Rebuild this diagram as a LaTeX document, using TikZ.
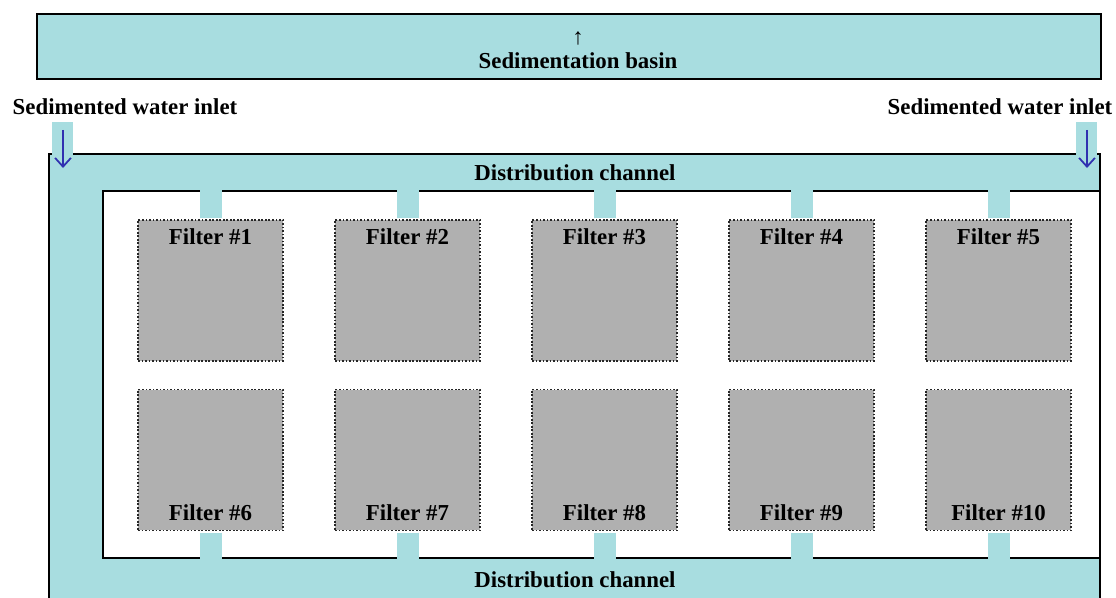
\documentclass[tikz,border=0pt]{standalone}
\usepackage{fontspec}
\setmainfont{Liberation Serif}
\usetikzlibrary{positioning,arrows.meta}

\definecolor{water}{RGB}{168,221,224}
\definecolor{filtergray}{RGB}{176,176,176}
\definecolor{inletblue}{RGB}{48,48,176}

\begin{document}
\begin{tikzpicture}[
x=0.02cm, y=-0.02cm,
wall/.style={line width=1.4pt},
filterbox/.style={
  draw=black!85,
  dash pattern=on 1pt off 1pt,
  line width=1.1pt,
  fill=filtergray,
  minimum width=2.9cm,
  minimum height=2.82cm,
  inner sep=0pt
  },
lbl/.style={font=\bfseries\fontsize{13}{15}\selectfont, inner sep=0pt},
pipe/.style={draw=water, line width=0.44cm},
inflow/.style={draw=inletblue, line width=1pt, -{Straight Barb[length=5pt,width=9pt]}}
]
\useasboundingbox (0,0) rectangle (1116,598);

% sedimentation basin
\filldraw[fill=water, wall] (37,14) rectangle (1101,79);
\node[lbl, font=\fontsize{13}{15}\selectfont] (basinup) at (578,38) {↑};
\node[lbl] (basin) at (578,61) {Sedimentation basin};

% distribution channel
\fill[water] (49,154) rectangle (1100,598);
\fill[white] (103,191) rectangle (1100,558);
\fill[water] (52,122) rectangle (73,156);
\fill[water] (1076,122) rectangle (1097,156);
\draw[wall] (49,598) -- (49,154) -- (52,154);
\draw[wall] (73,154) -- (1076,154);
\draw[wall] (1097,154) -- (1100,154) -- (1100,598);
\draw[wall] (1100,191) -- (103,191) -- (103,558) -- (1100,558);
\coordinate (chtop) at (0,187);
\coordinate (chbot) at (0,562);

% inlets
\node[lbl] (inletL) at (125,107) {Sedimented water inlet};
\node[lbl] (inletR) at (1000,107) {Sedimented water inlet};
\coordinate (inLa) at (63,130);
\coordinate (inLb) at (63,168);
\coordinate (inRa) at (1087,130);
\coordinate (inRb) at (1087,168);
\draw[inflow] (inLa) -- (inLb);
\draw[inflow] (inRa) -- (inRb);

\node[lbl] (distTop) at (575,173) {Distribution channel};
\node[lbl] (distBot) at (575,580) {Distribution channel};

% filters
\foreach \i in {1,...,5}{
  \pgfmathtruncatemacro{\n}{\i+5}
  \node[filterbox] (f\i) at ({210.5+197*(\i-1)},290.5) {};
  \node[filterbox] (f\n) at ({210.5+197*(\i-1)},460) {};
  \draw[pipe] ([yshift=0.6pt]f\i.north) -- (f\i.north |- chtop);
  \draw[pipe] ([yshift=-0.6pt]f\n.south) -- (f\n.south |- chbot);
  \node[lbl] (l\i) at ([yshift=-0.36cm]f\i.north) {Filter \#\i};
  \node[lbl] (l\n) at ([yshift=0.38cm]f\n.south) {Filter \#\n};
}
\end{tikzpicture}
\end{document}
